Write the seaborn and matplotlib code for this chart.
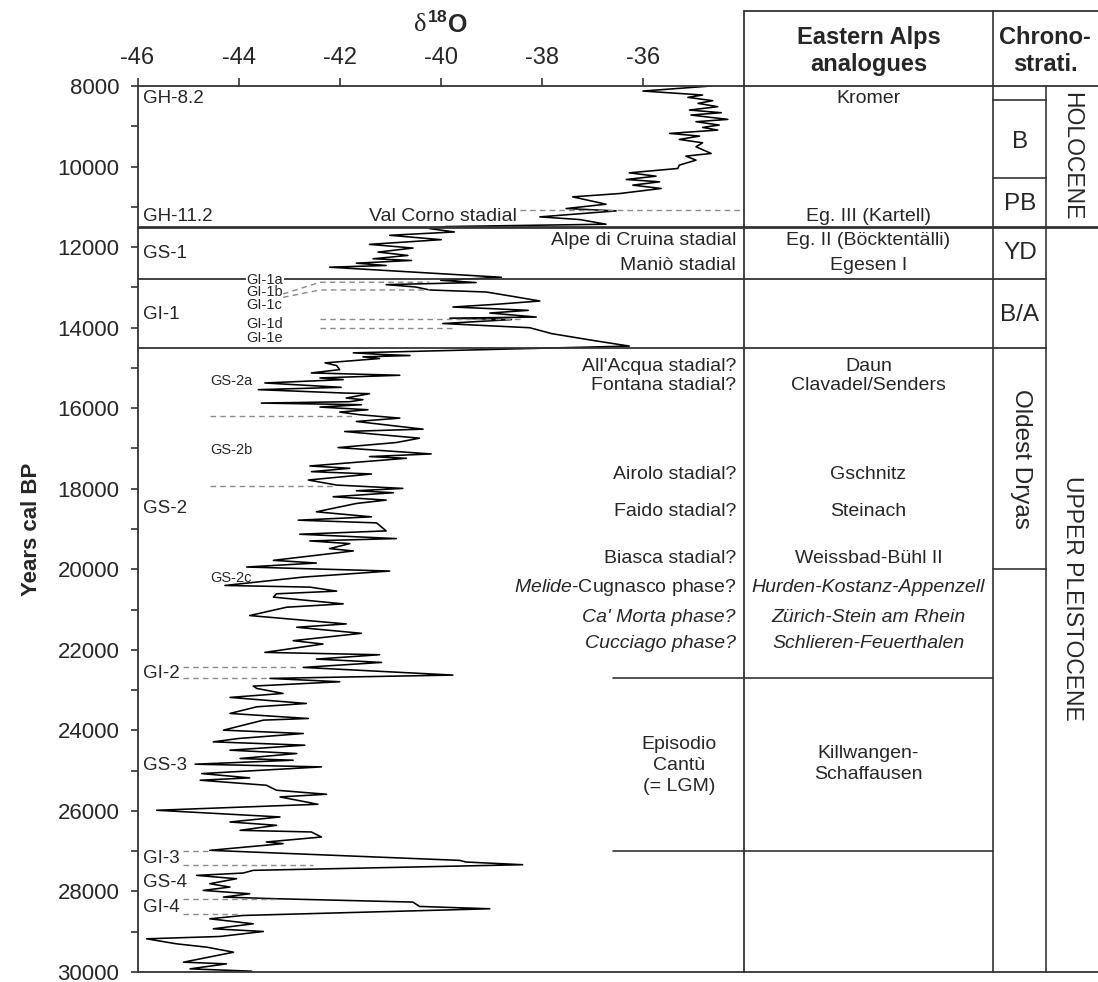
import numpy as np
import pandas as pd
import seaborn as sns
import matplotlib.pyplot as plt
from matplotlib.ticker import MultipleLocator

# =====================================================================
# Дані: крива d18O (від молодших до старших), роки cal BP
# =====================================================================
years = [8000, 8125, 8224, 8282, 8365, 8431, 8514, 8597, 8663, 8721, 8829, 8887, 8970, 9028, 9095,
         9177, 9244, 9327, 9410, 9509, 9675, 9741, 9841, 9965, 10048, 10156, 10239, 10321, 10379,
         10462, 10545, 10670, 10711, 10753, 10935, 11043, 11101, 11250, 11316, 11432, 11490,
         11541, 11624, 11707, 11816, 11932, 12024, 12124, 12207, 12290, 12332, 12399, 12457, 12499,
         12749, 12825, 12880, 12932, 12990, 13065, 13115, 13240, 13339, 13420, 13488, 13530, 13571,
         13637, 13737, 13765, 13800, 13898, 14002, 14150, 14276, 14317, 14458,
         14626, 14668, 14692, 14726, 14767, 14875, 14942, 15042, 15125, 15183, 15249, 15291, 15374,
         15482, 15540, 15623, 15640, 15748, 15789, 15839, 15873, 15914, 15972, 16039, 16097, 16163,
         16247, 16330, 16521, 16579, 16745, 16853, 16978, 17136, 17202, 17244, 17435, 17493, 17576,
         17634, 17784, 17909, 17992, 18050, 18100, 18199, 18282, 18366, 18573, 18698, 18781, 18848,
         19047, 19130, 19238, 19296, 19363, 19487, 19545, 19778, 19845, 19944, 20044, 20194, 20402,
         20443, 20543, 20609, 20692, 20859, 20942, 21149, 21357, 21440, 21590, 21773, 21856, 22064,
         22122, 22230, 22313, 22437, 22627, 22710, 22793, 22901, 22959, 23083, 23182, 23332, 23415,
         23580, 23705, 23746, 23995, 24078, 24202, 24285, 24368, 24492, 24575, 24699, 24741, 24840,
         24907, 25073, 25180, 25238, 25363, 25487, 25586, 25653, 25835, 25984, 26150, 26275, 26357,
         26482, 26523, 26648, 26772, 26813, 26979, 27228, 27269, 27336, 27476, 27543, 27601, 27684,
         27808, 27891, 27974, 28057, 28140, 28181, 28264, 28372, 28430, 28596, 28679, 28803, 28927,
         28994, 29118, 29176, 29300, 29383, 29508, 29756, 29798, 29922, 29980]
d18o = [-34.65, -36.00, -34.82, -35.11, -34.62, -34.91, -34.52, -35.08, -34.45, -35.05, -34.32, -34.95,
        -34.49, -34.82, -34.52, -35.47, -34.88, -35.28, -34.82, -34.95, -34.65, -35.15, -34.95, -35.28,
        -35.31, -36.27, -35.74, -36.33, -35.67, -36.20, -35.64, -36.46, -36.92, -37.39, -36.73, -37.52,
        -36.53, -38.04, -37.25, -36.73, -39.90,
        -40.22, -39.73, -41.01, -39.99, -41.41, -40.55, -41.24, -40.65, -41.34, -40.58, -41.67, -41.08,
        -42.20, -38.80, -40.00, -39.30, -41.08, -40.50, -40.22, -39.10, -38.50, -38.04, -38.90, -39.76,
        -38.97, -38.27, -39.03, -38.11, -39.82, -38.60, -39.96, -38.24, -37.80, -37.19, -36.99, -36.27,
        -41.73, -41.14, -40.61, -41.54, -41.21, -42.29, -42.06, -42.00, -42.56, -40.81, -42.39, -41.93,
        -43.48, -41.97, -43.61, -41.93, -41.41, -41.87, -41.54, -41.80, -43.55, -41.57, -42.39, -41.44,
        -42.00, -41.60, -40.81, -41.67, -40.35, -41.90, -40.42, -40.88, -42.03, -40.19, -41.41, -40.68,
        -42.59, -41.80, -42.56, -41.37, -42.62, -42.06, -40.75, -41.67, -40.94, -42.13, -41.08, -41.67,
        -42.46, -41.37, -42.82, -41.27, -41.08, -42.79, -40.88, -42.59, -41.80, -42.20, -41.73, -43.31,
        -42.46, -43.84, -41.01, -42.72, -44.27, -42.59, -42.06, -43.25, -43.31, -41.93, -43.05, -43.78,
        -41.87, -42.85, -41.57, -42.92, -42.33, -43.48, -41.21, -42.46, -41.17, -42.72, -39.76, -43.38,
        -42.00, -43.71, -43.64, -43.12, -44.17, -42.66, -43.64, -44.17, -42.62, -43.51, -44.30, -42.72,
        -44.00, -44.50, -42.69, -44.17, -42.85, -43.97, -42.92, -44.86, -42.36, -44.73, -43.78, -44.76,
        -43.45, -43.25, -42.26, -43.18, -42.43, -45.62, -43.18, -44.17, -43.25, -43.97, -42.56, -42.36,
        -43.45, -43.12, -44.57, -39.63, -39.50, -38.38, -43.71, -43.91, -44.83, -44.04, -44.57, -44.17,
        -44.70, -43.78, -44.30, -43.25, -40.55, -40.42, -39.03, -43.91, -44.57, -43.71, -44.50, -43.51,
        -44.37, -45.82, -45.23, -44.63, -44.10, -45.09, -44.24, -44.96, -43.74]

# Підписи подій (Greenland stratigraphy)
event_labels = ['GH-8.2', 'GH-11.2', 'GS-1', 'GI-1', 'GS-2', 'GI-2', 'GS-3', 'GI-3', 'GS-4', 'GI-4']
event_years = [8300, 11250, 12160, 13665, 18490, 22590, 24865, 27190, 27770, 28390]
sub_labels = ['GI-1a', 'GI-1b', 'GI-1c', 'GI-1d', 'GI-1e']
sub_years = [12815, 13123, 13432, 13898, 14265]
gs2_labels = ['GS-2a', 'GS-2b', 'GS-2c']
gs2_years = [15332, 17036, 20210]

# Пунктирні лінії меж підподій
dash_x = [[-38.44, -34.0], [-43.12, -42.39, -40.22], [-43.12, -42.39, -40.22], [-42.39, -38.38],
          [-42.39, -39.73], [-44.57, -41.67], [-44.57, -42.13], [-45.09, -42.85], [-45.09, -43.45],
          [-45.09, -44.60], [-45.09, -42.53], [-45.09, -43.22], [-45.09, -43.97]]
dash_y = [[11068, 11068], [13165, 12873, 12873], [13248, 13065, 13065], [13781, 13781],
          [13998, 13998], [16188, 16188], [17933, 17933], [22420, 22420], [22710, 22710],
          [27004, 27004], [27352, 27352], [28189, 28189], [28571, 28571]]

# Стадіали південних Альп і аналоги східних Альп
south_labels = ['Alpe di Cruina stadial', 'Maniò stadial', "All'Acqua stadial?", 'Fontana stadial?',
                'Airolo stadial?', 'Faido stadial?', 'Biasca stadial?',
                r'$\mathit{Melide}$-Cugnasco phase?', "Ca' Morta phase?", 'Cucciago phase?']
south_years = [11828, 12450, 14961, 15433, 17646, 18566, 19734, 20448, 21193, 21855]
south_italic = [False] * 8 + [True, True]
east_labels = ['Kromer', 'Eg. III (Kartell)', 'Eg. II (Böcktentälli)', 'Egesen I', 'Daun',
               'Clavadel/Senders', 'Gschnitz', 'Steinach', 'Weissbad-Bühl II',
               'Hurden-Kostanz-Appenzell', 'Zürich-Stein am Rhein', 'Schlieren-Feuerthalen',
               'Killwangen-\nSchaffausen']
east_years = [8298, 11250, 11828, 12450, 14961, 15433, 17646, 18566, 19734, 20448, 21193, 21855, 24830]
east_italic = [False] * 9 + [True, True, True, False]

# Хроностратиграфія
chrono_labels = ['B', 'PB', 'YD', 'B/A']
chrono_years = [9385, 10933, 12152, 13693]
chrono_bounds = [8350, 10280, 20000]

sns.set_style('ticks')
plt.rcParams['font.family'] = ['Liberation Sans', 'DejaVu Sans']
plt.rcParams['axes.unicode_minus'] = False
plt.rcParams['mathtext.fontset'] = 'custom'
plt.rcParams['mathtext.rm'] = 'Liberation Sans'
plt.rcParams['mathtext.it'] = 'Liberation Sans:italic'
plt.rcParams['mathtext.bf'] = 'Liberation Sans:bold'

LC = '#333333'
fig = plt.figure(figsize=(10.98, 9.82), dpi=100)
ax = fig.add_axes([137.5 / 1098, 10 / 982, 606.5 / 1098, 886 / 982])

df = pd.DataFrame({'d18o': d18o, 'year': years})
sns.lineplot(data=df, x='d18o', y='year', sort=False, estimator=None, color='black',
             linewidth=1.15, ax=ax)

ax.set_xlim(-46, -34)
ax.set_ylim(30000, 8000)
ax.xaxis.tick_top()
ax.set_xticks(range(-46, -35, 2))
ax.set_yticks(range(8000, 30001, 2000))
ax.yaxis.set_minor_locator(MultipleLocator(1000))
ax.tick_params(axis='x', direction='out', length=6, width=1.2, labelsize=17, pad=6, color=LC)
ax.tick_params(axis='y', which='both', direction='out', length=5, width=1.2, labelsize=16,
               pad=8, color=LC)
ax.set_xlabel('')
ax.set_ylabel('Years cal BP', fontsize=16, fontweight='bold')
ax.yaxis.set_label_coords(-0.158, 0.5)
for s in ax.spines.values():
    s.set_color(LC)
    s.set_linewidth(1.3)

# Колонки праворуч (x у частках осей, y у роках)
tr = ax.get_yaxis_transform()
c_mid, c1, c2, c3, c4 = 0.784, 1.0, 1.411, 1.4985, 1.5837
top_h = 1.0841
kw = dict(color=LC, clip_on=False)
ax.plot([c1, c4], [1, 1], transform=ax.transAxes, lw=1.3, **kw)
ax.plot([c1, c4], [0, 0], transform=ax.transAxes, lw=1.3, **kw)
ax.plot([c1, c4], [top_h, top_h], transform=ax.transAxes, lw=1.3, **kw)
ax.plot([c1, c1], [1, top_h], transform=ax.transAxes, lw=1.3, **kw)
ax.plot([c2, c2], [0, top_h], transform=ax.transAxes, lw=1.2, **kw)
ax.plot([c3, c3], [0, 1], transform=ax.transAxes, lw=1.2, **kw)

ax.plot([0, c4], [11500, 11500], transform=tr, lw=2.0, **kw)
ax.plot([0, c3], [12800, 12800], transform=tr, lw=1.3, **kw)
ax.plot([0, c3], [14500, 14500], transform=tr, lw=1.3, **kw)
ax.plot([c_mid, c2], [22700, 22700], transform=tr, lw=1.2, **kw)
ax.plot([c_mid, c2], [27000, 27000], transform=tr, lw=1.2, **kw)
for yb in chrono_bounds:
    ax.plot([c2, c3], [yb, yb], transform=tr, lw=1.2, **kw)

for xs, ys in zip(dash_x, dash_y):
    ax.plot(xs, ys, color='#8a8a8a', lw=1.0, dashes=(4, 3), clip_on=False)

# Заголовки
ax.text(0.4773, 1.0688, 'δ', transform=ax.transAxes, ha='right', va='center', fontsize=19,
        family='Liberation Serif')
ax.text(0.4773, 1.0688, r'$^{\mathbf{18}}$O', transform=ax.transAxes, ha='left', va='center',
        fontsize=18, fontweight='bold')
ax.text(1.2053, 1.0395, 'Eastern Alps\nanalogues', transform=ax.transAxes, ha='center',
        va='center', fontsize=17, fontweight='bold', linespacing=1.25)
ax.text(1.497, 1.0395, 'Chrono-\nstrati.', transform=ax.transAxes, ha='center',
        va='center', fontsize=17, fontweight='bold', linespacing=1.25)

# Підписи подій
for lab, yr in zip(event_labels, event_years):
    ax.text(-45.9, yr, lab, ha='left', va='center', fontsize=13.5)
for lab, yr in zip(sub_labels, sub_years):
    ax.text(-43.84, yr, lab, ha='left', va='center', fontsize=10.5,
            bbox=dict(fc='white', ec='none', pad=0.3) if lab == 'GI-1a' else None)
for lab, yr in zip(gs2_labels, gs2_years):
    ax.text(-44.57, yr, lab, ha='left', va='center', fontsize=10.5)

ax.text(0.6252, 11250, 'Val Corno stadial', transform=tr, ha='right', va='center', fontsize=14)
for lab, yr, it in zip(south_labels, south_years, south_italic):
    ax.text(0.9868, yr, lab, transform=tr, ha='right', va='center', fontsize=14,
            style='italic' if it else 'normal')
ax.text(0.893, 24880, 'Episodio\nCantù\n(= LGM)', transform=tr, ha='center', va='center',
        fontsize=14, linespacing=1.3)
for lab, yr, it in zip(east_labels, east_years, east_italic):
    ax.text(1.2053, yr, lab, transform=tr, ha='center', va='center', fontsize=14,
            style='italic' if it else 'normal', linespacing=1.3)

for lab, yr in zip(chrono_labels, chrono_years):
    ax.text(1.455, yr, lab, transform=tr, ha='center', va='center', fontsize=17.5)
ax.text(1.457, 17248, 'Oldest Dryas', transform=tr, ha='center', va='center', fontsize=17.5,
        rotation=-90)
ax.text(1.541, 9740, 'HOLOCENE', transform=tr, ha='center', va='center', fontsize=16.5,
        rotation=-90)
ax.text(1.541, 20728, 'UPPER PLEISTOCENE', transform=tr, ha='center', va='center',
        fontsize=16.5, rotation=-90)

fig.savefig('out.png', dpi=100, facecolor='white')
